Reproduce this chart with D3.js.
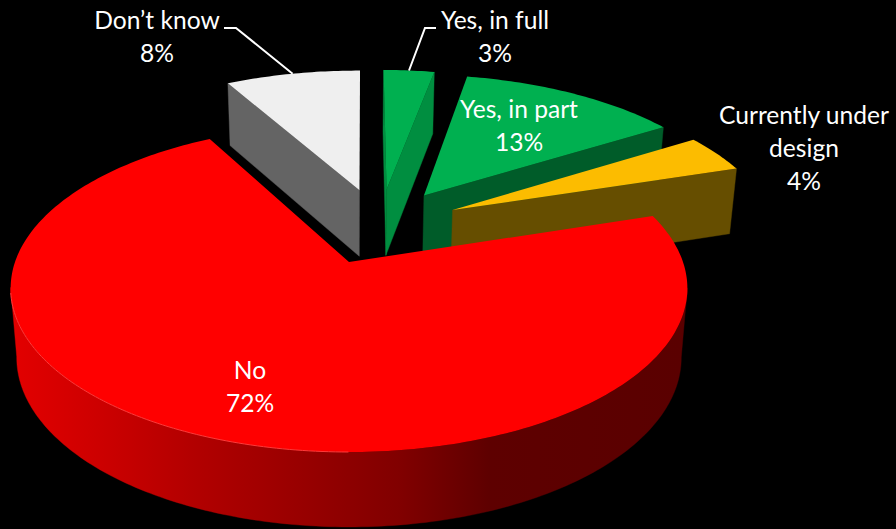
<!DOCTYPE html>
<html>
<head>
<meta charset="utf-8">
<script src="https://cdn.jsdelivr.net/npm/d3@7/dist/d3.min.js"></script>
<style>
  html, body { margin: 0; padding: 0; background: #000; }
  svg { display: block; }
  text { font-family: Lato, "Open Sans", sans-serif; fill: #fff; font-size: 24.6px; text-anchor: middle; }
</style>
</head>
<body>
<svg id="chart" width="896" height="529"></svg>
<script>
// Survey answers, clockwise from twelve o'clock
const categories = ["Yes, in full", "Yes, in part", "Currently under design", "No", "Don\u2019t know"];
const shares = [3, 13, 4, 72, 8];
const topColors = ["#00b050", "#00b050", "#fcbc00", "#ff0000", "#efefef"];
const sideColors = ["#008e40", "#005c29", "#664e00", "#5a0000", "#646464"];
// Label text lines and their anchor positions
const labelLines = [["Yes, in full"], ["Yes, in part"], ["Currently under", "design"], ["No"], ["Don\u2019t know"]];
const labelX = [495, 519, 804, 250, 157];
const labelY = [29, 118, 124, 379, 29];
const lineStep = 33;
// Rim shading of the large slice, left to right
const rimStops = [[0, "#e20000"], [0.13, "#cc0000"], [0.28, "#b00000"], [0.58, "#800000"], [0.71, "#5e0000"], [1, "#5a0000"]];

const svg = d3.select("#chart");

// Camera: a tilted plane seen in perspective; the unit disc maps to an ellipse-like rim
const persp = 0.16, explode = 0.255, rotation = 0.4 * Math.PI / 180;
const xMap = d3.scaleLinear().domain([-1, 1]).range([349 - 334, 349 + 334]);
const yMap = d3.scaleLinear().domain([-1, 1]).range([262 - 159.6, 262 + 159.6]);
const project = ([u, v]) => {
  const w = 1 - persp * v;
  return [xMap(u / w), yMap(v / w)];
};
// The underside of the disc sits lower and a little further from the eye
const drop = ([x, y]) => [xMap(0) + 0.982 * (x - xMap(0)), y + 68.4 + 0.0345 * (y - yMap(0))];

const arcs = d3.pie().sort(null).value(d => d)
  .startAngle(rotation).endAngle(2 * Math.PI + rotation)(shares);
const mid = a => (a.startAngle + a.endAngle) / 2;
const direction = t => [Math.sin(t), -Math.cos(t)];

// All slices are pushed out from a shared hub; the "No" slice defines the plane origin
const noDir = direction(mid(arcs[3]));
const hub = [-explode * noDir[0], -explode * noDir[1]];
const apexOf = a => {
  const d = direction(mid(a));
  return [hub[0] + explode * d[0], hub[1] + explode * d[1]];
};
const rimPoint = (a, t) => {
  const o = apexOf(a), d = direction(t);
  return [o[0] + d[0], o[1] + d[1]];
};

const line = d3.line();
const gradient = svg.append("defs").append("linearGradient")
  .attr("id", "rimShade").attr("gradientUnits", "userSpaceOnUse")
  .attr("x1", xMap(-1)).attr("x2", xMap(1)).attr("y1", 0).attr("y2", 0);
gradient.selectAll("stop").data(rimStops).join("stop")
  .attr("offset", d => d[0]).attr("stop-color", d => d[1]);

arcs.map((a, i) => ({ a, i }))
  .sort((p, q) => d3.ascending(apexOf(p.a)[1], apexOf(q.a)[1]))
  .forEach(({ a, i }) => {
    const steps = Math.max(4, Math.ceil((a.endAngle - a.startAngle) * 60));
    const rim = d3.range(steps + 1).map(s => project(rimPoint(a, a.startAngle + (a.endAngle - a.startAngle) * s / steps)));
    const apex = project(apexOf(a));
    const g = svg.append("g").attr("class", "slice");

    // Side walls: only edges running right-to-left on the clockwise outline face the eye
    const wall = (pts, fill) => {
      g.append("path").attr("d", line(pts.concat(pts.map(drop).reverse())) + "Z")
        .attr("fill", fill).attr("stroke", fill).attr("stroke-width", 0.4);
    };
    const first = rim[0], last = rim[rim.length - 1];
    if (first[0] < apex[0] - 1) wall([apex, first], sideColors[i]);
    if (apex[0] < last[0] - 1) wall([last, apex], sideColors[i]);

    let run = [];
    const flush = () => {
      if (run.length > 1) wall(run, i === 3 ? "url(#rimShade)" : sideColors[i]);
      run = [];
    };
    rim.forEach((p, s) => {
      if (s > 0 && p[0] < rim[s - 1][0]) {
        if (!run.length) run.push(rim[s - 1]);
        run.push(p);
      } else flush();
    });
    flush();

    // Top face
    g.append("path").attr("d", line([apex, ...rim]) + "Z").attr("fill", topColors[i]);

    // Faint highlight where the large slice's lit rim meets its wall
    if (i === 3) {
      g.append("path")
        .attr("d", line(rim.filter(p => p[0] < apex[0] && p[1] > apex[1] + 30)))
        .attr("fill", "none").attr("stroke", "#ff3a3a").attr("stroke-width", 1);
    }
  });

// Leader lines for the two labels placed above the disc
[[0, 436, 425], [4, 224, 236]].forEach(([i, x0, x1]) => {
  const end = project(rimPoint(arcs[i], mid(arcs[i])));
  svg.append("path")
    .attr("d", line([[x0, 28], [x1, 28], end]))
    .attr("fill", "none").attr("stroke", "#fff").attr("stroke-width", 2);
});

// Labels: name lines followed by the percentage
categories.forEach((c, i) => {
  const lines = [...labelLines[i], `${shares[i]}%`];
  const t = svg.append("text").attr("class", "label");
  lines.forEach((l, j) => {
    t.append("tspan").attr("x", labelX[i]).attr("y", labelY[i] + j * lineStep).text(l);
  });
});
</script>
</body>
</html>
